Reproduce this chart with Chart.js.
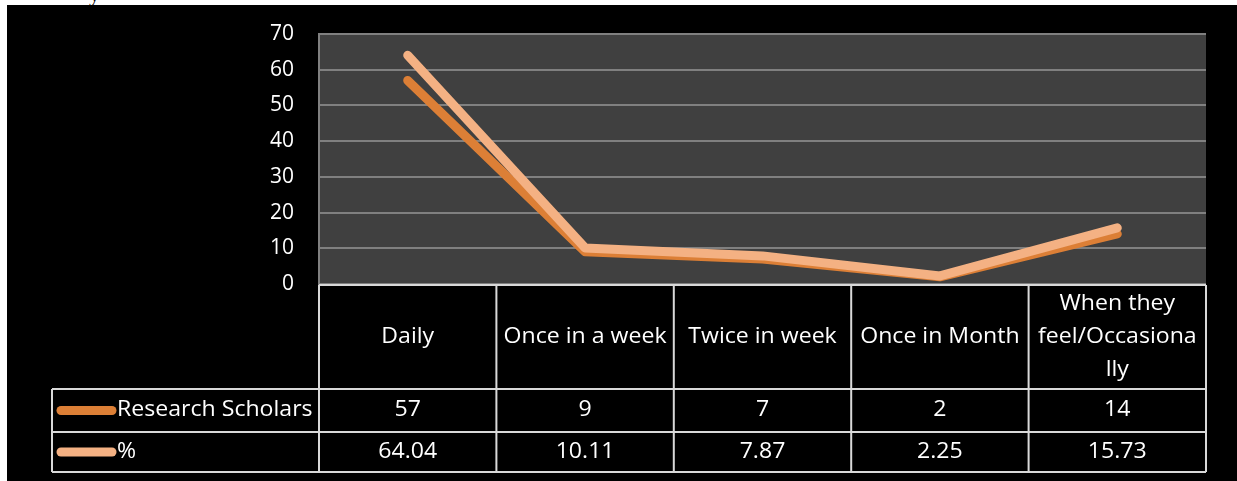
<!DOCTYPE html>
<html>
<head>
<meta charset="utf-8">
<script src="https://cdn.jsdelivr.net/npm/chart.js@4.4.0/dist/chart.umd.min.js"></script>
<style>
  html, body { margin: 0; padding: 0; background: #fff; overflow: hidden; }
  #stray { position: absolute; left: 89px; top: -19px; font: 22px "Liberation Serif", serif; color: #000; }
  #wrap { position: absolute; left: 7px; top: 5px; width: 1230px; height: 476px; background: #000; }
</style>
</head>
<body>
<div id="stray">y</div>
<div id="wrap"><canvas id="freqChart" width="1230" height="476"></canvas></div>
<script>
const categories = ["Daily", "Once in a week", "Twice in week", "Once in Month", ["When they", "feel/Occasiona", "lly"]];
const scholars = [57, 9, 7, 2, 14];
const percent = [64.04, 10.11, 7.87, 2.25, 15.73];
const scholarsText = ["57", "9", "7", "2", "14"];
const percentText = ["64.04", "10.11", "7.87", "2.25", "15.73"];
const seriesNames = ["Research Scholars", "%"];
const yTicks = [0, 10, 20, 30, 40, 50, 60, 70];

const ORANGE = "#DC7F36";
const PEACH = "#F4B183";
const FONT = '21px "Open Sans"';
const STRETCH = 1.1;

// dark fill behind the plot
const plotBg = {
  id: "plotBg",
  beforeDraw(chart) {
    const { ctx, chartArea: a } = chart;
    ctx.save();
    ctx.fillStyle = "#404040";
    ctx.fillRect(a.left, a.top, a.right - a.left, a.bottom - a.top);
    ctx.restore();
  }
};

// text a bit wider than the installed font, like the original
function wideText(ctx, text, x, y, align) {
  ctx.save();
  ctx.translate(x, y);
  ctx.scale(STRETCH, 1);
  ctx.textAlign = align;
  ctx.fillText(text, 0, 0);
  ctx.restore();
}

// data table under the plot
const dataTable = {
  id: "dataTable",
  afterDraw(chart) {
    const { ctx, chartArea: a } = chart;
    const n = categories.length;
    const colW = (a.right - a.left) / n;
    const top = a.bottom + 1;
    const headBottom = top + 104;
    const row1Bottom = headBottom + 43;
    const row2Bottom = row1Bottom + 40;
    const tableLeft = 45;

    ctx.save();
    ctx.strokeStyle = "#d9d9d9";
    ctx.lineWidth = 2;
    ctx.beginPath();
    ctx.moveTo(a.left, top); ctx.lineTo(a.right, top);
    [headBottom, row1Bottom, row2Bottom].forEach(y => {
      ctx.moveTo(tableLeft, y); ctx.lineTo(a.right, y);
    });
    for (let i = 0; i <= n; i++) {
      const x = a.left + i * colW;
      ctx.moveTo(x, top); ctx.lineTo(x, row2Bottom);
    }
    ctx.moveTo(tableLeft, headBottom); ctx.lineTo(tableLeft, row2Bottom);
    ctx.stroke();

    ctx.fillStyle = "#fff";
    ctx.font = FONT;
    ctx.textBaseline = "middle";
    const headMid = (top + headBottom) / 2;
    const r1Mid = (headBottom + row1Bottom) / 2;
    const r2Mid = (row1Bottom + row2Bottom) / 2;
    categories.forEach((c, i) => {
      const cx = chart.scales.x.getPixelForValue(i);
      const lines = Array.isArray(c) ? c : [c];
      const lh = 33;
      lines.forEach((t, k) => {
        wideText(ctx, t, cx, headMid + (k - (lines.length - 1) / 2) * lh, "center");
      });
      wideText(ctx, scholarsText[i], cx, r1Mid, "center");
      wideText(ctx, percentText[i], cx, r2Mid, "center");
    });

    // legend keys
    ctx.lineCap = "round";
    ctx.lineWidth = 9;
    [[ORANGE, r1Mid], [PEACH, r2Mid]].forEach(([col, y], k) => {
      ctx.strokeStyle = col;
      ctx.beginPath();
      ctx.moveTo(54, y); ctx.lineTo(105, y);
      ctx.stroke();
      wideText(ctx, seriesNames[k], 110, y, "left");
    });
    ctx.restore();
  }
};

document.addEventListener("DOMContentLoaded", () => {
  const ctx = document.getElementById("freqChart").getContext("2d");
  Chart.defaults.font.family = '"Open Sans"';
  Chart.defaults.font.size = 21;
  Chart.defaults.color = "#fff";

  new Chart(ctx, {
    type: "line",
    data: {
      labels: categories,
      datasets: [
        {
          label: seriesNames[0],
          data: scholars,
          borderColor: ORANGE,
          borderWidth: 9,
          order: 2
        },
        {
          label: seriesNames[1],
          data: percent,
          borderColor: PEACH,
          borderWidth: 9,
          order: 1
        }
      ]
    },
    options: {
      responsive: false,
      animation: false,
      layout: { padding: { top: 29, right: 31, bottom: 197, left: 0 } },
      elements: {
        line: { tension: 0, borderCapStyle: "round", borderJoinStyle: "round" },
        point: { radius: 0 }
      },
      plugins: { legend: { display: false }, tooltip: { enabled: false } },
      scales: {
        x: { display: false, offset: true },
        y: {
          min: 0,
          max: 70,
          afterFit: s => { s.width = 312; s.paddingTop = 0; s.paddingBottom = 0; },
          afterBuildTicks: s => { s.ticks = yTicks.map(v => ({ value: v })); },
          grid: { color: "#808080", lineWidth: 2, drawTicks: false },
          border: { display: true, color: "#808080", width: 2 },
          ticks: { padding: 25, color: "#fff", font: { size: 21 } }
        }
      }
    },
    plugins: [plotBg, dataTable]
  });
});
</script>
</body>
</html>
